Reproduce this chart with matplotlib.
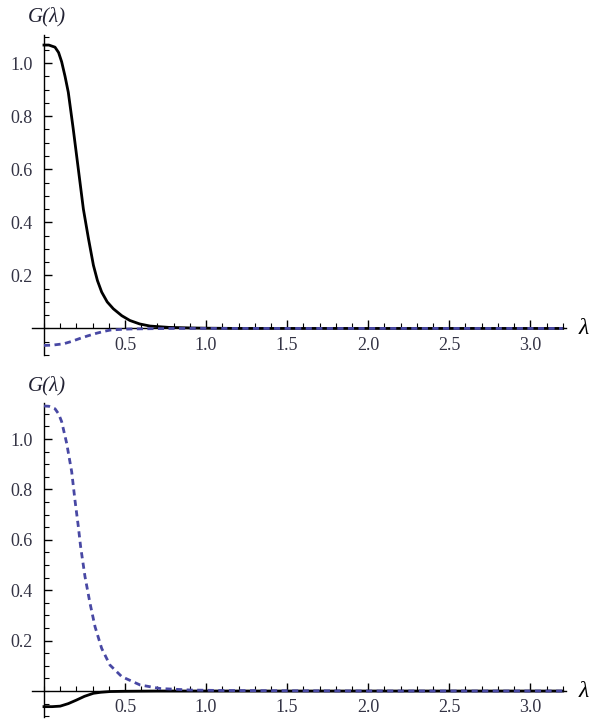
import matplotlib
matplotlib.use('Agg')
import matplotlib.pyplot as plt
from matplotlib.ticker import MultipleLocator, FixedLocator

# values
lam_top_solid = [0, 0.03, 0.068, 0.09, 0.109, 0.13, 0.15, 0.18, 0.212, 0.243, 0.274, 0.305,
                 0.33, 0.356, 0.39, 0.428, 0.48, 0.53, 0.59, 0.654, 0.77, 0.9, 1.0, 1.2, 1.5,
                 2.0, 2.5, 3.2]
g_top_solid = [1.068, 1.068, 1.06, 1.04, 1.005, 0.95, 0.89, 0.754, 0.60, 0.45, 0.34, 0.238,
               0.18, 0.137, 0.10, 0.074, 0.048, 0.030, 0.017, 0.009, 0.004, 0.002, 0.001, 0,
               0, 0, 0, 0]
lam_top_dash = [0, 0.05, 0.12, 0.17, 0.22, 0.27, 0.325, 0.37, 0.41, 0.46, 0.53, 0.65, 0.8,
                1.0, 3.2]
g_top_dash = [-0.064, -0.063, -0.058, -0.049, -0.038, -0.028, -0.018, -0.011, -0.006,
              -0.004, -0.002, -0.001, 0, 0, 0]

lam_bot_dash = [0, 0.03, 0.068, 0.09, 0.109, 0.14, 0.171, 0.191, 0.212, 0.226, 0.253, 0.284,
                0.315, 0.356, 0.407, 0.48, 0.593, 0.716, 0.9, 1.1, 1.5, 2.0, 2.5, 3.2]
g_bot_dash = [1.131, 1.13, 1.12, 1.10, 1.069, 0.983, 0.87, 0.758, 0.652, 0.573, 0.454, 0.348,
              0.255, 0.169, 0.103, 0.057, 0.024, 0.01, 0.004, 0.002, 0.001, 0, 0, 0]
lam_bot_solid = [0, 0.05, 0.1, 0.15, 0.2, 0.25, 0.305, 0.35, 0.41, 0.5, 0.7, 1.0, 3.2]
g_bot_solid = [-0.062, -0.062, -0.060, -0.05, -0.036, -0.021, -0.009, -0.005, -0.002,
               -0.001, 0, 0, 0]

xticks = [0.5, 1.0, 1.5, 2.0, 2.5, 3.0]
yticks = [0.2, 0.4, 0.6, 0.8, 1.0]

serif = 'Liberation Serif'
blue = '#4848a4'

fig = plt.figure(figsize=(6, 7.24), dpi=100)
ax1 = fig.add_axes([0.0533, 0.5097, 0.89, 0.442])
ax2 = fig.add_axes([0.0533, 0.0097, 0.89, 0.4337])


def style(ax, ylim):
    ax.set_xlim(-0.074, 3.22)
    ax.set_ylim(*ylim)
    for s in ['top', 'right']:
        ax.spines[s].set_visible(False)
    ax.spines['left'].set_position(('data', 0))
    ax.spines['bottom'].set_position(('data', 0))
    for s in ['left', 'bottom']:
        ax.spines[s].set_linewidth(1.0)
    ax.xaxis.set_major_locator(FixedLocator(xticks))
    ax.xaxis.set_minor_locator(MultipleLocator(0.1))
    ax.yaxis.set_major_locator(FixedLocator(yticks))
    ax.yaxis.set_minor_locator(MultipleLocator(0.05))
    ax.set_xticklabels(['%.1f' % v for v in xticks])
    ax.set_yticklabels(['%.1f' % v for v in yticks])
    ax.tick_params(which='major', direction='in', length=6, width=1.0, labelsize=13,
                   colors='black', pad=6)
    ax.tick_params(which='minor', direction='in', length=3.5, width=0.8)
    ax.tick_params(axis='y', which='both', pad=8)
    for lab in ax.get_xticklabels() + ax.get_yticklabels():
        lab.set_family(serif)
        lab.set_color('#333344')
    ax.text(3.33, 0, u'\u03bb', fontsize=17, family=serif, style='italic',
            va='center', ha='center', transform=ax.transData, clip_on=False)
    ax.text(-0.1, ylim[1] + 0.07, u'G(\u03bb)', fontsize=15, family=serif, style='italic',
            va='center', ha='left', transform=ax.transData, clip_on=False,
            color='#222233')


ax1.plot(lam_top_solid, g_top_solid, color='black', lw=2.0, zorder=3)
ax1.plot(lam_top_dash, g_top_dash, color=blue, lw=2.0, dashes=(2.2, 1.6), zorder=3)
style(ax1, (-0.10, 1.106))

ax2.plot(lam_bot_solid, g_bot_solid, color='black', lw=2.0, zorder=3)
ax2.plot(lam_bot_dash, g_bot_dash, color=blue, lw=2.0, dashes=(2.2, 1.6), zorder=3)
style(ax2, (-0.103, 1.143))

fig.savefig('out.png', dpi=100)
